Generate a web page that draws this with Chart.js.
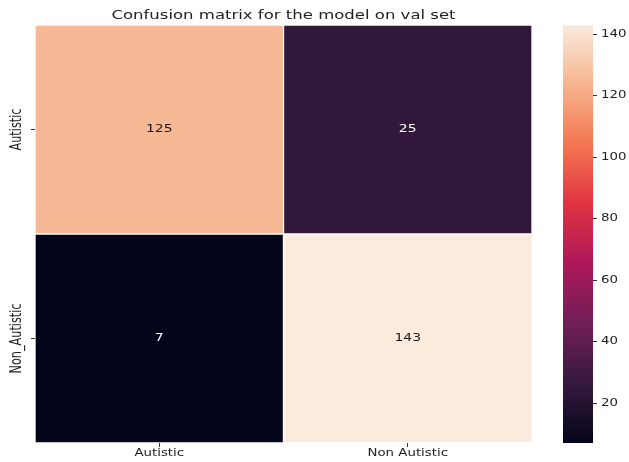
<!DOCTYPE html>
<html>
<head>
<meta charset="utf-8">
<script src="https://cdn.jsdelivr.net/npm/chart.js@4.4.0/dist/chart.umd.min.js"></script>
<style>
  body { margin: 0; background: #fff; }
  #wrap { position: relative; width: 629px; height: 462px; overflow: hidden; }
  #heat { position: absolute; left: 0; top: 0; }
  #cbar { position: absolute; left: 555px; top: 0; }
</style>
</head>
<body>
<div id="wrap">
  <canvas id="heat" width="566" height="462"></canvas>
  <canvas id="cbar" width="74" height="462"></canvas>
</div>
<script>
// confusion matrix: rows = true class, columns = predicted class
const predLabels = ['Autistic', 'Non Autistic'];
const trueLabels = ['Autistic', 'Non_Autistic'];
const rowAutistic = [125, 25];
const rowNonAutistic = [7, 143];
const colorbarTicks = [20, 40, 60, 80, 100, 120, 140];
const titleText = 'Confusion matrix for the model on val set';

const allCounts = rowAutistic.concat(rowNonAutistic);
const vmin = Math.min(...allCounts);
const vmax = Math.max(...allCounts);

// seaborn "rocket" colormap, sampled
const rocketStops = [
  [0, '#03051a'], [1 / 7, '#35193e'], [2 / 7, '#701f57'], [3 / 7, '#ad1759'],
  [4 / 7, '#e13342'], [5 / 7, '#f37651'], [6 / 7, '#f6b48f'], [1, '#faebdd']
];
function hexRgb(h) {
  return [1, 3, 5].map(i => parseInt(h.substr(i, 2), 16));
}
function rocket(v) {
  const t = Math.max(0, Math.min(1, (v - vmin) / (vmax - vmin)));
  for (let i = 1; i < rocketStops.length; i++) {
    const [t1, c1] = rocketStops[i];
    if (t <= t1) {
      const [t0, c0] = rocketStops[i - 1];
      const f = (t - t0) / (t1 - t0);
      const a = hexRgb(c0), b = hexRgb(c1);
      return 'rgb(' + a.map((x, k) => Math.round(x + (b[k] - x) * f)).join(',') + ')';
    }
  }
  return rocketStops[rocketStops.length - 1][1];
}
function isLight(v) {
  return (v - vmin) / (vmax - vmin) > 0.6;
}

const textColor = '#222';
const WIDE = 1.27; // text in this figure is drawn a bit wider than tall

// horizontally stretched text
function wideText(ctx, text, x, y, font, color, align) {
  ctx.save();
  ctx.font = font;
  ctx.fillStyle = color;
  ctx.textAlign = align || 'center';
  ctx.textBaseline = 'middle';
  ctx.translate(x, y);
  ctx.scale(WIDE, 1);
  ctx.fillText(text, 0, 0);
  ctx.restore();
}

// title, column labels, row labels and the count in every cell
const heatText = {
  id: 'heatText',
  afterDatasetsDraw(chart) {
    const ctx = chart.ctx;
    const area = chart.chartArea;
    chart.data.datasets.forEach((ds, di) => {
      chart.getDatasetMeta(di).data.forEach((bar, i) => {
        const v = ds.counts[i];
        wideText(ctx, String(v), bar.x, (bar.y + bar.base) / 2,
          '11px "DejaVu Sans"', isLight(v) ? '#1a1a1a' : '#ffffff');
      });
    });
    wideText(ctx, titleText, (area.left + area.right) / 2, 16,
      '13px "DejaVu Sans"', textColor);
    const xs = chart.scales.x;
    predLabels.forEach((lab, i) => {
      wideText(ctx, lab, xs.getPixelForValue(i), area.bottom + 10,
        '10.5px "DejaVu Sans"', textColor);
    });
    const ys = chart.scales.yl;
    trueLabels.forEach((lab, i) => {
      ctx.save();
      ctx.font = '12.5px "Liberation Sans Narrow", "DejaVu Sans Condensed", sans-serif';
      ctx.fillStyle = textColor;
      ctx.textAlign = 'center';
      ctx.textBaseline = 'middle';
      ctx.translate(ys.left + 17, ys.getPixelForValue(i));
      ctx.scale(WIDE, 1);
      ctx.rotate(-Math.PI / 2);
      ctx.fillText(lab, 0, 0);
      ctx.restore();
    });
  }
};

new Chart(document.getElementById('heat'), {
  type: 'bar',
  data: {
    labels: predLabels,
    datasets: [
      {
        label: trueLabels[1],
        data: rowNonAutistic.map(() => [0, 1]),
        counts: rowNonAutistic,
        backgroundColor: rowNonAutistic.map(rocket)
      },
      {
        label: trueLabels[0],
        data: rowAutistic.map(() => [1, 2]),
        counts: rowAutistic,
        backgroundColor: rowAutistic.map(rocket)
      }
    ]
  },
  options: {
    responsive: false,
    animation: false,
    grouped: false,
    barPercentage: 1,
    categoryPercentage: 1,
    borderWidth: 1,
    borderColor: 'rgba(255,255,255,0.85)',
    borderSkipped: false,
    layout: { padding: { top: 25, right: 34 } },
    plugins: {
      legend: { display: false },
      tooltip: { enabled: false }
    },
    scales: {
      x: {
        offset: true,
        grid: { offset: false, drawOnChartArea: false, tickLength: 4, color: '#333' },
        border: { display: false },
        ticks: { display: false },
        afterFit(s) { s.height = 19; }
      },
      y: { display: false, min: 0, max: 2 },
      yl: {
        type: 'category',
        position: 'left',
        labels: trueLabels,
        offset: true,
        grid: { offset: false, drawOnChartArea: false, tickLength: 4, color: '#333' },
        border: { display: false },
        ticks: { display: false },
        afterFit(s) { s.width = 35; }
      }
    }
  },
  plugins: [heatText]
});

// colour bar: one floating bar spanning the data range, filled with the colormap
function barGradient(chart) {
  const y = chart.scales.y;
  if (!y) return rocket(vmax);
  const y0 = y.getPixelForValue(vmin), y1 = y.getPixelForValue(vmax);
  if (!isFinite(y0) || !isFinite(y1) || y0 === y1) return rocket(vmax);
  const g = chart.ctx.createLinearGradient(0, y0, 0, y1);
  rocketStops.forEach(([t, c]) => g.addColorStop(t, c));
  return g;
}

const cbarText = {
  id: 'cbarText',
  afterDraw(chart) {
    const ys = chart.scales.y;
    colorbarTicks.forEach(v => {
      wideText(chart.ctx, String(v), chart.chartArea.right + 8, ys.getPixelForValue(v),
        '10.5px "DejaVu Sans"', textColor, 'left');
    });
  }
};

new Chart(document.getElementById('cbar'), {
  type: 'bar',
  data: {
    labels: [''],
    datasets: [{
      data: [[vmin, vmax]],
      backgroundColor: ctx => barGradient(ctx.chart),
      barPercentage: 1,
      categoryPercentage: 1,
      borderWidth: 0
    }]
  },
  options: {
    responsive: false,
    animation: false,
    layout: { padding: { left: 8, top: 25, bottom: 19 } },
    plugins: { legend: { display: false }, tooltip: { enabled: false } },
    scales: {
      x: { display: false },
      y: {
        position: 'right',
        min: vmin,
        max: vmax,
        afterBuildTicks(s) { s.ticks = colorbarTicks.map(v => ({ value: v })); },
        grid: { drawOnChartArea: false, tickLength: 4, color: '#333' },
        border: { display: false },
        ticks: { display: false },
        afterFit(s) { s.width = 36; }
      }
    }
  },
  plugins: [cbarText]
});
</script>
</body>
</html>
